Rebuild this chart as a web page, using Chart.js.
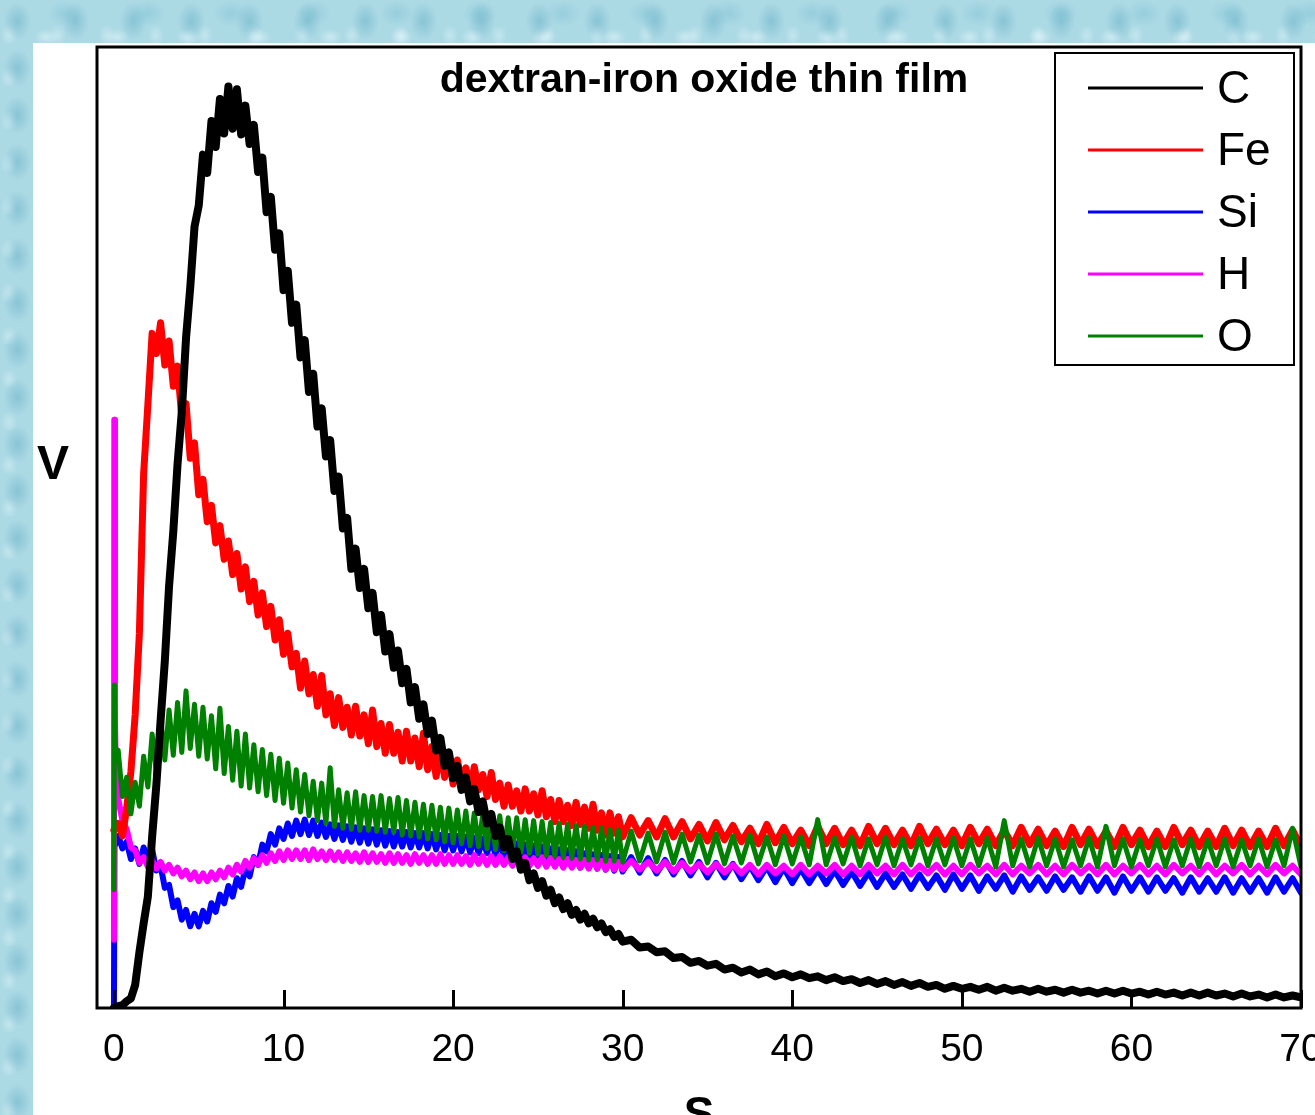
<!DOCTYPE html>
<html>
<head>
<meta charset="utf-8">
<script src="https://cdn.jsdelivr.net/npm/chart.js@4.4.1/dist/chart.umd.min.js"></script>
<style>
html,body{margin:0;padding:0;width:1315px;height:1115px;overflow:hidden;}
body{
  background-color:#abd9e4;
  background-image:
    radial-gradient(ellipse 16px 22px at 30% 45%, rgba(95,170,195,0.45), rgba(95,170,195,0) 85%),
    radial-gradient(ellipse 14px 10px at 65% 70%, rgba(230,248,252,0.55), rgba(230,248,252,0) 85%),
    radial-gradient(ellipse 20px 15px at 78% 22%, rgba(120,190,210,0.40), rgba(120,190,210,0) 85%),
    radial-gradient(ellipse 10px 13px at 18% 82%, rgba(215,240,246,0.55), rgba(215,240,246,0) 85%);
  background-size:58px 47px, 71px 53px, 83px 61px, 49px 43px;
}
#panel{position:absolute;left:33px;top:43px;width:1282px;height:1100px;background:#ffffff;}
canvas{display:block;}
</style>
</head>
<body>
<div id="panel"><canvas id="c" width="1282" height="1100"></canvas></div>
<script>
// ---------------- data ----------------
const seriesNames = ['C', 'Fe', 'Si', 'H', 'O'];
const xTickValues = [0, 10, 20, 30, 40, 50, 60, 70];
const chartTitle = 'dextran-iron oxide thin film';
const yAxisLabel = 'V';
const xAxisLabel = 'S';

// sampling times (s)
const timeFine = [
  0.25,0.5,0.75,1,1.25,1.5,1.75,2,2.25,2.5,
  2.75,3,3.25,3.5,3.75,4,4.25,4.5,4.75,5,
  5.25,5.5,5.75,6,6.25,6.5,6.75,7,7.25,7.5,
  7.75,8,8.25,8.5,8.75,9,9.25,9.5,9.75,10,
  10.25,10.5,10.75,11,11.25,11.5,11.75,12,12.25,12.5,
  12.75,13,13.25,13.5,13.75,14,14.25,14.5,14.75,15,
  15.25,15.5,15.75,16,16.25,16.5,16.75,17,17.25,17.5,
  17.75,18,18.25,18.5,18.75,19,19.25,19.5,19.75,20,
  20.25,20.5,20.75,21,21.25,21.5,21.75,22,22.25,22.5,
  22.75,23,23.25,23.5,23.75,24,24.25,24.5,24.75,25,
  25.25,25.5,25.75,26,26.25,26.5,26.75,27,27.25,27.5,
  27.75,28,28.25,28.5,28.75,29,29.25,29.5,29.75,30
];
const timeCoarse = [
  30.5,31,31.5,32,32.5,33,33.5,34,34.5,35,
  35.5,36,36.5,37,37.5,38,38.5,39,39.5,40,
  40.5,41,41.5,42,42.5,43,43.5,44,44.5,45,
  45.5,46,46.5,47,47.5,48,48.5,49,49.5,50,
  50.5,51,51.5,52,52.5,53,53.5,54,54.5,55,
  55.5,56,56.5,57,57.5,58,58.5,59,59.5,60,
  60.5,61,61.5,62,62.5,63,63.5,64,64.5,65,
  65.5,66,66.5,67,67.5,68,68.5,69,69.5,70
];

// first instants (s) and values
const cStartT = [0];             const cStartV = [0];
const feStartT = [0];            const feStartV = [18.5];
const siStartT = [0, 0.03];      const siStartV = [0, 16.8];
const hStartT = [0, 0.02, 0.06, 0.12]; const hStartV = [7.1, 61.2, 30.0, 23.5];
const oStartT = [0, 0.03, 0.08]; const oStartV = [12.3, 33.6, 27.0];

// C
const cFine = [
  0.2,0.3,0.7,1.0,2.4,5.8,8.8,11.6,17.8,23.2,
  29.9,36.1,43.9,49.6,56.6,62.0,69.7,75.0,81.3,83.5,
  88.8,86.9,92.3,89.6,94.6,91.0,95.9,91.5,95.6,90.9,
  93.9,89.9,91.9,87.0,88.5,82.8,84.4,78.9,80.6,74.7,
  76.7,71.3,73.2,67.7,69.5,64.1,66.0,60.5,62.4,57.4,
  59.1,53.8,55.3,49.9,51.0,45.7,47.8,43.7,45.7,41.6,
  43.2,39.1,40.9,37.1,38.9,35.4,37.2,33.8,35.3,31.8,
  33.4,30.1,31.6,28.5,29.9,26.8,28.1,25.2,26.6,23.9,
  25.2,22.7,24.0,21.5,22.8,20.4,21.5,19.2,20.2,17.9,
  18.8,16.7,17.6,15.5,16.3,14.4,15.1,13.3,14.0,12.5,
  13.2,11.7,12.3,10.9,11.5,10.3,10.9,9.7,10.2,9.2,
  9.8,8.8,9.3,8.4,8.8,7.9,8.2,7.4,7.7,6.9
];
const cTail = [
  7.1,6.3,6.4,5.8,5.9,5.2,5.3,4.7,4.9,4.4,
  4.6,4.0,4.2,3.7,4.0,3.5,3.8,3.3,3.6,3.2,
  3.5,3.1,3.3,2.9,3.2,2.8,3.0,2.6,2.9,2.5,
  2.8,2.4,2.7,2.3,2.6,2.2,2.4,2.0,2.3,2.0,
  2.2,1.9,2.2,1.8,2.1,1.8,2.0,1.7,2.0,1.7,
  1.9,1.6,1.9,1.6,1.8,1.5,1.8,1.5,1.8,1.5,
  1.7,1.4,1.7,1.4,1.6,1.3,1.6,1.3,1.6,1.3,
  1.5,1.2,1.5,1.2,1.4,1.1,1.4,1.1,1.3,1.1
];

// Fe
const feFine = [
  19.2,17.9,20.8,24.6,30.5,39.0,55.6,62.8,70.2,68.1,
  71.3,66.9,69.4,64.7,66.8,61.4,62.9,57.2,58.8,53.4,
  55.0,50.6,52.3,48.4,50.2,46.7,48.6,45.1,47.3,43.6,
  45.9,42.3,44.4,40.9,43.2,39.7,41.8,38.3,40.4,36.8,
  39.0,35.5,36.9,33.3,36.1,32.7,34.7,31.4,34.6,30.5,
  32.7,29.4,32.3,29.2,31.3,28.4,31.4,28.3,30.5,27.5,
  31.0,27.2,29.6,26.5,29.5,26.5,28.7,25.7,28.8,25.7,
  28.1,25.1,28.6,24.8,27.2,24.1,27.1,24.0,26.2,23.3,
  25.8,23.5,25.0,22.8,25.1,22.7,24.3,22.0,24.5,21.7,
  23.4,21.0,23.2,21.0,22.6,20.5,22.8,20.5,22.3,20.1,
  22.6,19.9,21.7,19.4,21.6,19.4,21.1,19.0,21.4,19.1,
  20.9,18.7,21.2,18.5,20.3,18.0,20.3,18.2,19.9,17.8
];
const feTail = [
  19.8,18.0,19.5,17.8,19.7,17.8,19.4,17.6,19.1,17.4,
  19.3,17.5,19.0,17.3,18.7,17.1,19.1,17.2,18.8,17.1,
  18.5,16.9,18.9,17.1,18.7,17.0,18.5,16.9,18.9,17.1,
  18.7,17.0,18.5,16.9,18.9,17.1,18.6,17.0,18.5,16.9,
  18.8,17.1,18.6,16.9,18.5,16.9,18.8,17.0,18.6,16.9,
  18.4,16.8,18.8,17.0,18.6,16.9,18.4,16.8,18.8,17.0,
  18.5,16.8,18.4,16.8,18.8,17.0,18.5,16.8,18.4,16.8,
  18.7,16.9,18.5,16.8,18.4,16.8,18.7,16.9,18.5,16.8
];

// Si
const siFine = [
  17.9,16.6,17.3,15.5,16.6,15.0,16.7,15.5,16.5,14.3,
  14.8,12.5,12.8,10.5,11.2,9.2,10.2,8.5,9.8,8.5,
  10.1,9.0,10.9,10.0,11.8,10.9,12.7,11.6,13.5,12.6,
  14.5,13.7,15.7,14.9,17.0,16.3,18.1,17.0,18.7,17.6,
  19.2,17.9,19.5,18.1,19.6,18.0,19.5,17.9,19.3,17.8,
  19.1,17.6,19.0,17.5,18.9,17.3,18.8,17.2,18.7,17.1,
  18.6,17.0,18.5,16.9,18.4,16.8,18.3,16.8,18.3,16.7,
  18.2,16.7,18.2,16.6,18.1,16.5,18.0,16.4,17.9,16.4,
  17.9,16.3,17.8,16.2,17.7,16.1,17.6,16.1,17.6,15.9,
  17.4,15.8,17.3,15.6,17.1,15.6,17.0,15.4,16.9,15.3,
  16.8,15.1,16.6,15.1,16.5,14.9,16.4,14.8,16.3,14.6,
  16.1,14.6,16.0,14.5,15.9,14.4,15.8,14.3,15.7,14.2
];
const siTail = [
  15.7,14.1,15.6,14.0,15.4,13.9,15.3,13.8,15.2,13.6,
  15.1,13.6,15.0,13.4,14.8,13.3,14.7,13.1,14.6,13.0,
  14.5,13.0,14.4,12.9,14.3,12.8,14.2,12.7,14.1,12.6,
  14.0,12.6,13.9,12.4,13.9,12.5,13.8,12.3,13.9,12.4,
  13.8,12.2,13.7,12.4,13.8,12.1,13.7,12.3,13.6,12.2,
  13.7,12.3,13.6,12.1,13.7,12.2,13.6,12.0,13.7,12.2,
  13.6,12.1,13.6,12.2,13.5,12.0,13.6,12.1,13.5,12.1,
  13.6,12.0,13.5,12.1,13.5,12.0,13.6,12.1,13.5,12.0
];

// H
const hFine = [
  21.8,19.5,18.6,16.7,16.4,15.1,15.7,14.7,15.4,14.5,
  15.2,14.3,14.9,14.0,14.6,13.7,14.3,13.4,14.1,13.2,
  14.0,13.2,14.1,13.4,14.3,13.6,14.6,13.9,14.9,14.2,
  15.3,14.6,15.6,14.9,15.9,15.1,16.1,15.3,16.3,15.4,
  16.4,15.5,16.4,15.5,16.4,15.4,16.5,15.5,16.3,15.4,
  16.3,15.4,16.2,15.3,16.2,15.3,16.1,15.2,16.2,15.2,
  16.1,15.2,16.0,15.1,16.1,15.1,16.0,15.1,15.9,15.0,
  16.0,15.1,15.9,15.0,15.9,15.0,16.0,15.0,15.9,15.0,
  15.9,15.0,15.8,14.9,15.9,15.0,15.8,14.9,15.8,14.9,
  15.8,14.9,15.7,14.8,15.8,14.8,15.7,14.8,15.6,14.8,
  15.7,14.7,15.6,14.7,15.5,14.6,15.5,14.6,15.4,14.6,
  15.4,14.5,15.4,14.5,15.3,14.4,15.3,14.4,15.2,14.4
];
const hTail = [
  15.3,14.4,15.2,14.3,15.2,14.2,15.1,14.2,15.0,14.1,
  15.0,14.1,14.9,14.0,14.9,13.9,14.9,14.0,14.8,13.9,
  14.9,13.9,14.8,14.0,14.9,13.9,14.8,13.9,14.9,14.0,
  14.8,13.9,14.9,13.9,14.8,14.0,14.9,13.9,14.8,13.9,
  14.9,14.0,14.8,13.9,14.9,13.9,14.8,14.0,14.9,13.9,
  14.8,13.9,14.9,14.0,14.8,13.9,14.9,13.9,14.8,14.0,
  14.9,13.9,14.8,13.9,14.9,14.0,14.8,13.9,14.9,13.9,
  14.8,14.0,14.9,13.9,14.8,13.9,14.9,14.0,14.8,13.9
];

// O
const oFine = [
  26.8,22.0,24.0,20.2,23.5,21.0,26.2,23.0,28.5,24.6,
  30.3,25.8,31.0,26.3,31.8,26.6,33.0,27.0,31.6,26.2,
  31.3,25.9,30.4,24.9,31.2,24.4,29.3,23.7,28.8,23.1,
  28.5,22.9,27.4,22.5,26.9,22.1,26.4,21.6,26.0,21.3,
  25.5,20.8,24.8,20.4,24.3,20.0,23.6,19.5,23.4,19.2,
  25.0,18.9,22.7,18.7,22.4,18.6,22.5,18.5,22.1,18.5,
  22.0,18.4,22.1,18.3,21.8,18.3,21.9,18.0,21.6,17.9,
  21.4,17.8,21.2,17.6,21.1,17.5,20.9,17.3,20.8,17.2,
  20.6,17.1,20.5,16.9,20.3,16.8,20.2,16.6,20.1,16.5,
  20.0,16.4,19.8,16.3,19.8,16.2,19.6,16.1,19.5,16.0,
  19.4,15.9,19.3,15.8,19.2,15.7,19.1,15.6,19.0,15.5,
  18.9,15.4,18.8,15.4,18.7,15.3,18.6,15.3,18.5,15.2
];
const oTail = [
  18.4,15.3,18.2,15.2,18.3,15.1,18.1,15.2,18.0,15.1,
  18.1,15.0,17.9,15.1,18.0,15.0,17.8,14.9,17.9,15.0,
  17.8,14.9,19.6,14.9,17.7,15.0,17.8,14.8,17.6,14.9,
  17.8,14.8,17.6,14.9,17.7,14.8,17.6,14.9,17.7,14.8,
  17.6,14.8,17.7,14.7,19.5,14.8,17.6,14.7,17.7,14.8,
  17.6,14.7,17.5,14.8,17.7,14.7,18.9,14.8,17.6,14.7,
  17.5,14.8,17.6,14.7,17.5,14.8,17.6,14.7,17.5,14.8,
  17.6,14.7,17.5,14.8,17.6,14.7,17.5,14.8,18.7,14.7
];

// ---------------- build ----------------
function buildSeries(startT, startV, fineV, tailV) {
  if (fineV.length !== timeFine.length || tailV.length !== timeCoarse.length) {
    throw new Error('length mismatch ' + fineV.length + ' ' + tailV.length);
  }
  const pts = [];
  startT.forEach((t, i) => pts.push({x: t, y: startV[i]}));
  timeFine.forEach((t, i) => pts.push({x: t, y: fineV[i]}));
  timeCoarse.forEach((t, i) => pts.push({x: t, y: tailV[i]}));
  return pts;
}

const FONT = '"Liberation Sans", Arial, Helvetica, sans-serif';

const ds = (label, color, width, order, pts) => ({
  label, data: pts, borderColor: color, backgroundColor: color,
  borderWidth: width, order, pointRadius: 0, tension: 0,
  borderJoinStyle: 'round', borderCapStyle: 'round', fill: false
});

const datasets = [
  ds(seriesNames[0], '#000000', 8, 0, buildSeries(cStartT, cStartV, cFine, cTail)),
  ds(seriesNames[1], '#ff0000', 7, 2, buildSeries(feStartT, feStartV, feFine, feTail)),
  ds(seriesNames[2], '#0000ff', 6, 4, buildSeries(siStartT, siStartV, siFine, siTail)),
  ds(seriesNames[3], '#ff00ff', 6, 3, buildSeries(hStartT, hStartV, hFine, hTail)),
  ds(seriesNames[4], '#008000', 5, 1, buildSeries(oStartT, oStartV, oFine, oTail))
];

const decorPlugin = {
  id: 'decor',
  afterDatasetsDraw(chart) {
    const {ctx, chartArea: a, scales: {x}} = chart;
    ctx.save();
    // frame
    ctx.strokeStyle = '#000';
    ctx.lineWidth = 3;
    ctx.strokeRect(a.left, a.top, a.right - a.left, a.bottom - a.top);
    // inward ticks on bottom axis
    xTickValues.forEach(v => {
      const px = Math.round(x.getPixelForValue(v)) + 0.5;
      ctx.beginPath();
      ctx.moveTo(px, a.bottom);
      ctx.lineTo(px, a.bottom - 18);
      ctx.stroke();
    });
    // title
    ctx.fillStyle = '#000';
    ctx.font = 'bold 41px ' + FONT;
    ctx.textAlign = 'center';
    ctx.textBaseline = 'middle';
    ctx.fillText(chartTitle, 671, 38);
    // axis labels
    ctx.font = 'bold 48px ' + FONT;
    ctx.fillText(yAxisLabel, 20, 423);
    ctx.font = 'bold 46px ' + FONT;
    ctx.textBaseline = 'alphabetic';
    ctx.fillText(xAxisLabel, 666, 1086);
    // legend
    const lx = 1022, ly = 10, lw = 239, lh = 312;
    ctx.fillStyle = '#fff';
    ctx.fillRect(lx, ly, lw, lh);
    ctx.strokeStyle = '#000';
    ctx.lineWidth = 2;
    ctx.strokeRect(lx, ly, lw, lh);
    ctx.font = '46px ' + FONT;
    ctx.textAlign = 'left';
    ctx.textBaseline = 'middle';
    chart.data.datasets.forEach((d, i) => {
      const y = 45 + i * 62;
      ctx.strokeStyle = d.borderColor;
      ctx.lineWidth = 3;
      ctx.beginPath();
      ctx.moveTo(1055, y);
      ctx.lineTo(1170, y);
      ctx.stroke();
      ctx.fillStyle = '#000';
      ctx.fillText(d.label, 1184, y + 2);
    });
    ctx.restore();
  }
};

new Chart(document.getElementById('c'), {
  type: 'line',
  data: { datasets },
  options: {
    responsive: false,
    animation: false,
    devicePixelRatio: 1,
    layout: { padding: { left: 0, top: 4, right: 14, bottom: 0 } },
    plugins: { legend: { display: false }, title: { display: false }, tooltip: { enabled: false } },
    scales: {
      x: {
        type: 'linear', min: -1, max: 70,
        grid: { display: false, drawTicks: false },
        border: { display: false },
        afterBuildTicks: s => { s.ticks = xTickValues.map(v => ({ value: v })); },
        ticks: { color: '#000', font: { family: FONT, size: 39 }, padding: 19, maxRotation: 0, autoSkip: false },
        afterFit: s => { s.height = 135; s.paddingLeft = 0; s.paddingRight = 0; }
      },
      y: {
        type: 'linear', min: 0, max: 100,
        grid: { display: false, drawTicks: false },
        border: { display: false },
        ticks: { display: false },
        afterFit: s => { s.width = 64; s.paddingTop = 0; s.paddingBottom = 0; }
      }
    }
  },
  plugins: [decorPlugin]
});
</script>
</body>
</html>
